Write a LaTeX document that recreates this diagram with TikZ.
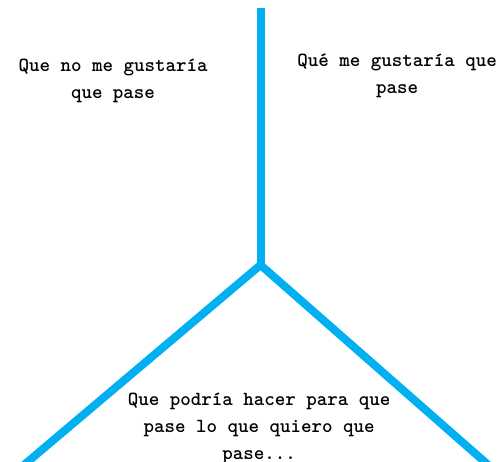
\documentclass[tikz,border=0pt]{standalone}
\usepackage{fontspec}
\usepackage{tikz}
\definecolor{lineblue}{RGB}{0,176,240}
\tikzset{%
  branch/.style={line width=8pt, lineblue},% blue Y lines
  caption/.style={font=\ttfamily\bfseries\fontsize{20}{27}\selectfont, align=center, inner sep=0pt}% block texts
}
\begin{document}
\begin{tikzpicture}[x=1pt, y=-1pt]
\useasboundingbox (0,0) rectangle (503,462);
\clip (0,0) rectangle (503,462);
\coordinate (top) at (260.5,8);
\coordinate (mid) at (260.5,265);
\coordinate (left) at (18,470);
\coordinate (right) at (494,470);

\draw[branch] (top) -- (mid);
\draw[branch, line join=miter] (left) -- (mid) -- (right);

\node[caption] (nogusta) at (113,81) {Que no me gustaría\\que pase};
\node[caption] (gusta) at (397,76) {Qué me gustaría que\\pase};
\node[caption] (hacer) at (259,428) {Que podría hacer para que\\pase lo que quiero que\\pase...};
\end{tikzpicture}
\end{document}
